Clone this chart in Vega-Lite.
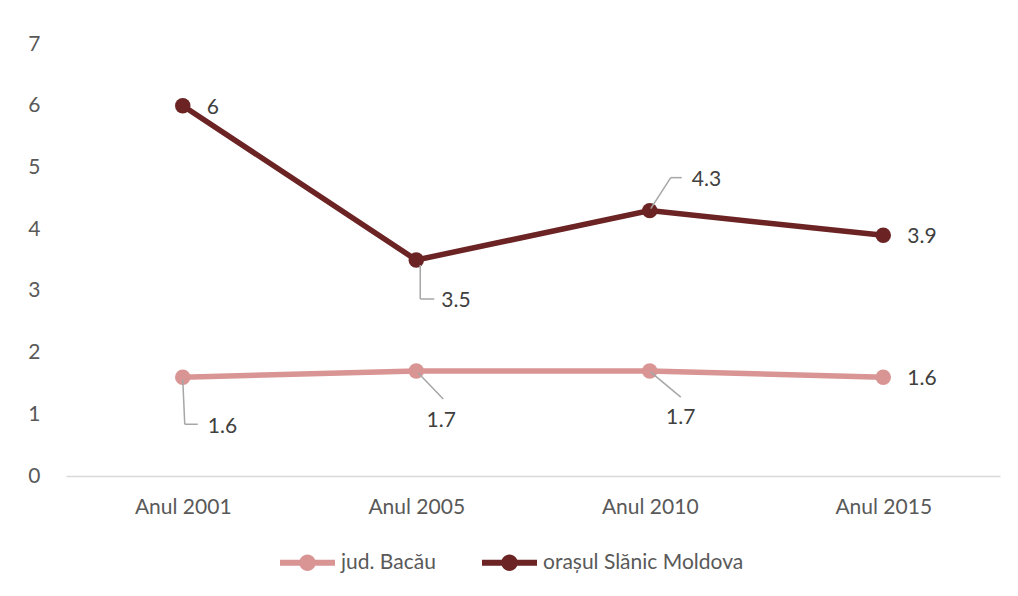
{
  "$schema": "https://vega.github.io/schema/vega-lite/v6.json",
  "width": 934,
  "height": 432,
  "autosize": {"type": "none"},
  "padding": {"left": 66, "top": 44, "right": 18, "bottom": 120},
  "background": "white",
  "config": {
    "view": {"stroke": null},
    "font": "Lato",
    "axis": {"labelFont": "Lato", "labelFontSize": 21, "labelColor": "#595959", "grid": false, "ticks": false, "title": null},
    "legend": {"labelFont": "Lato", "labelFontSize": 21, "labelColor": "#595959", "labelLimit": 0}
  },
  "data": {
    "values": [
      {"year": "Anul 2001", "series": "jud. Bacău", "value": 1.6},
      {"year": "Anul 2005", "series": "jud. Bacău", "value": 1.7},
      {"year": "Anul 2010", "series": "jud. Bacău", "value": 1.7},
      {"year": "Anul 2015", "series": "jud. Bacău", "value": 1.6},
      {"year": "Anul 2001", "series": "orașul Slănic Moldova", "value": 6},
      {"year": "Anul 2005", "series": "orașul Slănic Moldova", "value": 3.5},
      {"year": "Anul 2010", "series": "orașul Slănic Moldova", "value": 4.3},
      {"year": "Anul 2015", "series": "orașul Slănic Moldova", "value": 3.9}
    ]
  },
  "encoding": {
    "x": {"field": "year", "type": "ordinal", "scale": {"type": "point", "padding": 0.5},
      "axis": {"labelAngle": 0, "domainColor": "#D9D9D9", "domainWidth": 1.5, "labelPadding": 20}},
    "y": {"field": "value", "type": "quantitative", "scale": {"domain": [0, 7], "nice": false},
      "axis": {"domain": false, "values": [0, 1, 2, 3, 4, 5, 6, 7], "labelPadding": 26}},
    "color": {"field": "series", "type": "nominal",
      "scale": {"domain": ["jud. Bacău", "orașul Slănic Moldova"], "range": ["#D99594", "#6B2323"]},
      "legend": {"title": null, "orient": "none", "direction": "horizontal", "legendX": 214, "legendY": 491,
        "padding": 0, "symbolSize": 3025, "labelOffset": 6, "columnPadding": 46, "labelLimit": 0,
        "symbolType": "M-1,-0.11H1V0.11H-1Z M0.3,0A0.3,0.3 0 1,1 -0.3,0A0.3,0.3 0 1,1 0.3,0Z",
        "symbolStrokeWidth": 0,
        "encode": {"symbols": {"update": {"fill": {"scale": "color", "field": "value"}, "stroke": {"value": "transparent"}}}}}}
  },
  "layer": [
    {"mark": {"type": "line", "strokeWidth": 5.5}},
    {"mark": {"type": "point", "filled": true, "size": 240, "opacity": 1}},
    {"transform": [{"filter": "datum.series == 'orașul Slănic Moldova' && datum.year == 'Anul 2005'"}],
      "mark": {"type": "rule", "strokeWidth": 1.5, "xOffset": 4, "yOffset": 5, "x2Offset": 4, "y2Offset": 39},
      "encoding": {"x2": {"field": "year"}, "y2": {"field": "value"}, "color": {"value": "#A6A6A6"}}},
    {"transform": [{"filter": "datum.series == 'orașul Slănic Moldova' && datum.year == 'Anul 2005'"}],
      "mark": {"type": "rule", "strokeWidth": 1.5, "xOffset": 4, "yOffset": 39, "x2Offset": 18, "y2Offset": 39},
      "encoding": {"x2": {"field": "year"}, "y2": {"field": "value"}, "color": {"value": "#A6A6A6"}}},
    {"transform": [{"filter": "datum.series == 'orașul Slănic Moldova' && datum.year == 'Anul 2010'"}],
      "mark": {"type": "rule", "strokeWidth": 1.5, "xOffset": 1, "yOffset": -2, "x2Offset": 21, "y2Offset": -33},
      "encoding": {"x2": {"field": "year"}, "y2": {"field": "value"}, "color": {"value": "#A6A6A6"}}},
    {"transform": [{"filter": "datum.series == 'orașul Slănic Moldova' && datum.year == 'Anul 2010'"}],
      "mark": {"type": "rule", "strokeWidth": 1.5, "xOffset": 21, "yOffset": -33, "x2Offset": 32, "y2Offset": -33},
      "encoding": {"x2": {"field": "year"}, "y2": {"field": "value"}, "color": {"value": "#A6A6A6"}}},
    {"transform": [{"filter": "datum.series == 'jud. Bacău' && datum.year == 'Anul 2001'"}],
      "mark": {"type": "rule", "strokeWidth": 1.5, "xOffset": 0, "yOffset": 2, "x2Offset": 2, "y2Offset": 47},
      "encoding": {"x2": {"field": "year"}, "y2": {"field": "value"}, "color": {"value": "#A6A6A6"}}},
    {"transform": [{"filter": "datum.series == 'jud. Bacău' && datum.year == 'Anul 2001'"}],
      "mark": {"type": "rule", "strokeWidth": 1.5, "xOffset": 2, "yOffset": 47, "x2Offset": 15, "y2Offset": 47},
      "encoding": {"x2": {"field": "year"}, "y2": {"field": "value"}, "color": {"value": "#A6A6A6"}}},
    {"transform": [{"filter": "datum.series == 'jud. Bacău' && datum.year == 'Anul 2005'"}],
      "mark": {"type": "rule", "strokeWidth": 1.5, "xOffset": 2, "yOffset": 2, "x2Offset": 27, "y2Offset": 28},
      "encoding": {"x2": {"field": "year"}, "y2": {"field": "value"}, "color": {"value": "#A6A6A6"}}},
    {"transform": [{"filter": "datum.series == 'jud. Bacău' && datum.year == 'Anul 2010'"}],
      "mark": {"type": "rule", "strokeWidth": 1.5, "xOffset": 1, "yOffset": 1, "x2Offset": 31, "y2Offset": 26},
      "encoding": {"x2": {"field": "year"}, "y2": {"field": "value"}, "color": {"value": "#A6A6A6"}}},
    {"transform": [{"filter": "datum.year == 'Anul 2015' || (datum.year == 'Anul 2001' && datum.value == 6)"}],
      "mark": {"type": "text", "align": "left", "baseline": "middle", "dx": 24, "dy": 2, "fontSize": 21, "font": "Lato"},
      "encoding": {"text": {"field": "value"}, "color": {"value": "#404040"}}},
    {"transform": [{"filter": "datum.series == 'orașul Slănic Moldova' && datum.year == 'Anul 2005'"}],
      "mark": {"type": "text", "align": "left", "baseline": "middle", "dx": 25, "dy": 41, "fontSize": 21, "font": "Lato"},
      "encoding": {"text": {"field": "value", "format": ".1f"}, "color": {"value": "#404040"}}},
    {"transform": [{"filter": "datum.series == 'orașul Slănic Moldova' && datum.year == 'Anul 2010'"}],
      "mark": {"type": "text", "align": "left", "baseline": "middle", "dx": 42, "dy": -31, "fontSize": 21, "font": "Lato"},
      "encoding": {"text": {"field": "value", "format": ".1f"}, "color": {"value": "#404040"}}},
    {"transform": [{"filter": "datum.series == 'jud. Bacău' && datum.year == 'Anul 2001'"}],
      "mark": {"type": "text", "align": "left", "baseline": "middle", "dx": 25, "dy": 50, "fontSize": 21, "font": "Lato"},
      "encoding": {"text": {"field": "value", "format": ".1f"}, "color": {"value": "#404040"}}},
    {"transform": [{"filter": "datum.series == 'jud. Bacău' && datum.year == 'Anul 2005'"}],
      "mark": {"type": "text", "align": "center", "baseline": "middle", "dx": 25, "dy": 50, "fontSize": 21, "font": "Lato"},
      "encoding": {"text": {"field": "value", "format": ".1f"}, "color": {"value": "#404040"}}},
    {"transform": [{"filter": "datum.series == 'jud. Bacău' && datum.year == 'Anul 2010'"}],
      "mark": {"type": "text", "align": "center", "baseline": "middle", "dx": 31, "dy": 47, "fontSize": 21, "font": "Lato"},
      "encoding": {"text": {"field": "value", "format": ".1f"}, "color": {"value": "#404040"}}}
  ]
}
